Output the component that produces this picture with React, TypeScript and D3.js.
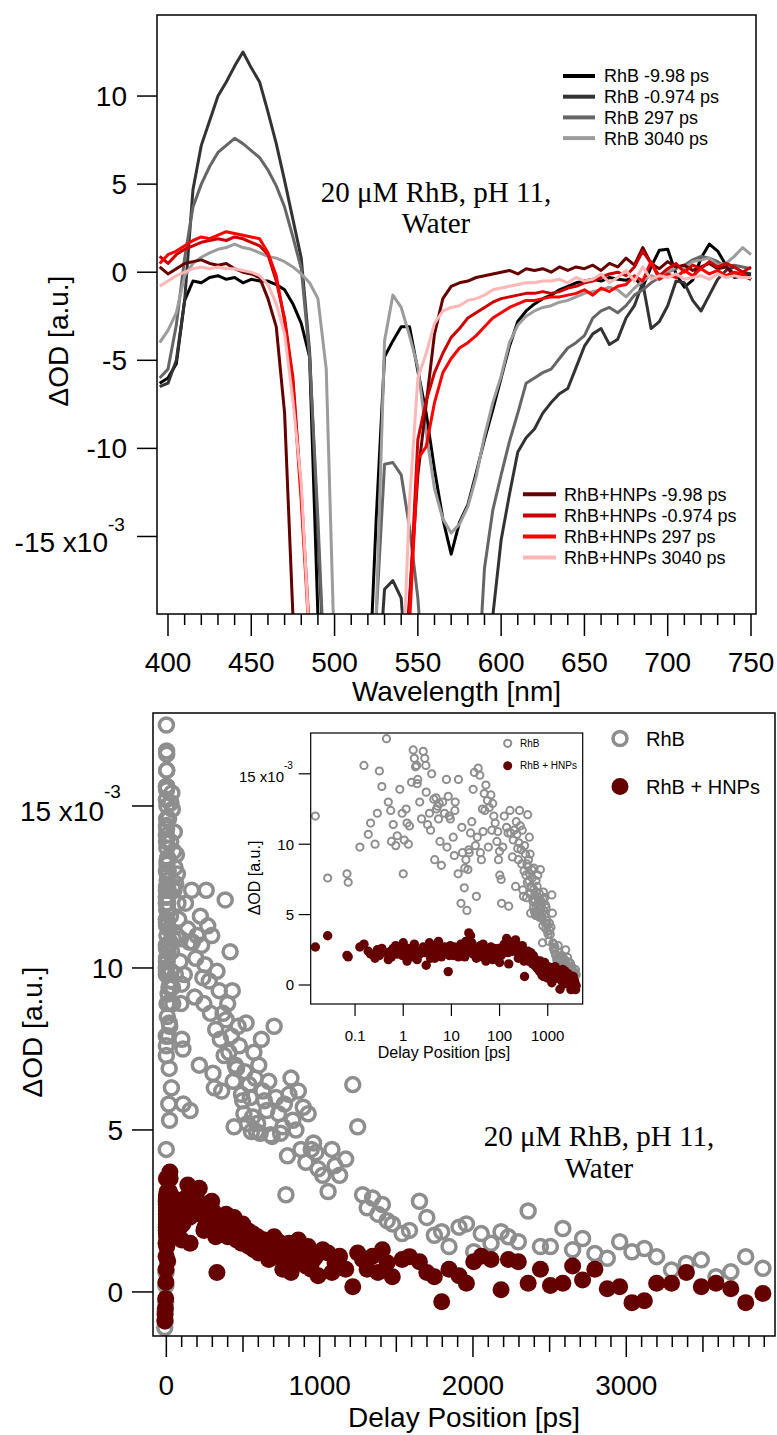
import React from 'react';
import * as d3 from 'd3';

// ---------- Top panel: transient absorption spectra (ΔOD ×10^-3) ----------
const wavelengths = [
  395, 400, 405, 410, 415, 420, 425, 430, 435, 440,
  445, 450, 455, 460, 465, 470, 475, 480, 485, 490,
  495, 500, 505, 510, 515, 520, 525, 530, 535, 540,
  545, 550, 555, 560, 565, 570, 575, 580, 585, 590,
  595, 600, 605, 610, 615, 620, 625, 630, 635, 640,
  645, 650, 655, 660, 665, 670, 675, 680, 685, 690,
  695, 700, 705, 710, 715, 720, 725, 730, 735, 740,
  745, 750,
];

const rhbNeg998 = [
  -6.3, -6.0, -5.2, -1.6, -0.5, -0.6, -0.3, -0.2, -0.4, -0.3,
  -0.6, -0.4, -0.5, -0.5, -0.7, -1.0, -1.8, -2.9, -4.8, -19.5,
  -25, -25, -25, -25, -25, -25, -14, -4.8, -3.9, -3.1,
  -3.1, -5.6, -8.0, -11.2, -14.0, -16.0, -14.2, -13.2, -11.4, -9.5,
  -7.8, -6.0, -4.2, -2.8, -2.2, -1.8, -1.5, -1.3, -1.0, -0.8,
  -0.6, -0.5, -0.4, -0.5, -0.3, -0.4, -0.45, -0.3, -0.85, 0.3,
  1.25, 1.3, -0.1, -0.85, -0.45, 0.8, 1.6, 1.2, 0.4, -0.3,
  -0.2, -0.1,
];
const rhbNeg0974 = [
  -6.5, -6.3, -5.0, -1.6, 4.7, 7.2, 8.6, 10.0, 10.8, 11.7,
  12.5, 11.6, 10.8, 9.1, 7.3, 5.2, 3.0, 0.8, -4.5, -15,
  -25, -25, -25, -25, -25, -25, -25, -18, -17.5, -18.5,
  -25, -25, -25, -25, -25, -25, -25, -25, -25, -25,
  -19.5, -15.2, -12.6, -10.2, -9.4, -8.9, -8.0, -7.4, -6.9, -6.6,
  -5.4, -4.2, -3.5, -3.2, -4.1, -3.8, -2.6, -1.9, -0.6, -3.2,
  -2.8, -1.9, -0.5, -0.6, -1.6, -2.2, -1.3, -0.4, 0.1, 0.3,
  0.0, -0.1,
];
const rhb297 = [
  -6.0, -5.5, -3.0, 0.8, 3.7, 5.0, 6.0, 6.8, 7.2, 7.6,
  7.3, 6.9, 6.5, 5.8, 4.9, 3.7, 2.0, 0.2, -4.8, -14,
  -25, -25, -25, -25, -25, -25, -19.5, -10.9, -10.8, -11.5,
  -14.5, -18.5, -25, -25, -25, -25, -25, -25, -25, -16.8,
  -13.5, -11.5, -9.6, -8.0, -6.3, -6.0, -5.7, -5.5, -4.9, -4.3,
  -4.0, -3.6, -2.6, -2.2, -2.0, -2.3, -1.9, -1.3, -1.0, -0.6,
  -0.3, 0.0, 0.2, 0.4, 0.7, 0.9, 0.8, 0.6, 0.3, 0.4,
  0.3, 0.2,
];
const rhb3040 = [
  -4.0, -3.3, -2.3, -0.2, 0.5, 0.85, 1.1, 1.3, 1.4, 1.6,
  1.4, 1.3, 1.1, 0.9, 0.8, 0.6, 0.3, -0.1, -0.6, -1.5,
  -5.5, -22, -25, -25, -25, -25, -19.5, -3.9, -1.3, -2.0,
  -3.6, -5.4, -9.1, -12.3, -14.0, -14.8, -14.3, -13.3, -11.6, -9.3,
  -7.4, -5.9, -4.0, -3.0, -2.5, -2.2, -2.0, -1.9, -1.7, -1.6,
  -1.4, -1.2, -1.1, -1.0, -0.85, -1.0, -1.4, -0.9, -0.5, -0.2,
  -0.4, 0.0, 0.3, 0.2, 0.6, 0.7, 0.8, 0.4, 0.5, 0.9,
  1.4, 1.0,
];
const hnpNeg998 = [
  0.3, -0.1, 0.2, 0.5, 0.6, 0.7, 0.5, 0.4, 0.5, 0.2,
  0.0, -0.1, -0.3, -1.5, -3.1, -8.0, -19.5, -25, -25, -25,
  -25, -25, -25, -25, -25, -25, -25, -25, -25, -25,
  -18.5, -11.5, -7.5, -3.5, -1.5, -0.8, -0.6, -0.5, -0.3, -0.2,
  -0.1, 0.0, 0.1, -0.1, 0.2, 0.1, 0.2, 0.0, 0.3, 0.1,
  0.3, 0.2, 0.4, 0.1, 0.5, 0.3, 0.8, 0.4, 1.4, 0.5,
  0.2, 0.6, 0.3, 0.4, 0.1, 0.3, 0.5, 0.2, 0.3, -0.1,
  -0.2, -0.4,
];
const hnpNeg0974 = [
  0.9, 0.5, 1.0, 1.3, 1.5, 1.7, 1.8, 1.9, 1.8, 2.0,
  1.9, 1.7, 1.5, 1.0, -0.5, -2.6, -6.0, -12.5, -20.5, -25,
  -25, -25, -25, -25, -25, -25, -25, -25, -25, -25,
  -19, -9.5, -7.3, -5.7, -4.6, -3.7, -3.2, -2.6, -2.3, -2.0,
  -1.7, -1.5, -1.4, -1.3, -1.2, -1.2, -1.1, -1.2, -1.1, -0.9,
  -0.8, -0.6, -0.5, -0.3, -0.1, 0.0, -0.2, 0.3, 1.2, 0.5,
  -0.2, 0.2, 0.5, 0.0, 0.4, 0.2, 0.6, 0.3, 0.5, 0.3,
  0.0, 0.3,
];
const hnp297 = [
  0.5, 1.0, 1.2, 1.5, 1.8, 2.0, 1.9, 2.1, 2.3, 2.2,
  2.1, 2.0, 1.9, 1.1, -0.2, -2.8, -6.3, -13, -21, -25,
  -25, -25, -25, -25, -25, -25, -25, -25, -25, -25,
  -20, -10.6, -9.9, -7.4, -5.7, -4.9, -4.3, -4.0, -3.6, -3.1,
  -2.6, -2.3, -2.0, -1.8, -1.6, -1.6, -1.5, -1.4, -1.4, -1.3,
  -1.2, -1.0, -1.3, -0.9, -1.1, -0.8, -0.7, -0.2, -0.5, 0.6,
  -0.4, -0.1, -0.3, 0.1, -0.2, 0.2, -0.1, 0.1, -0.2, 0.0,
  -0.1, -0.4,
];
const hnp3040 = [
  -0.8, -0.5, -0.2, 0.0, 0.2, 0.3, 0.2, 0.3, 0.2, 0.2,
  0.1, 0.0, -0.2, -0.7, -1.8, -3.5, -7.3, -12, -21, -25,
  -25, -25, -25, -25, -25, -25, -25, -25, -25, -25,
  -13, -6.0, -4.6, -2.9, -2.2, -2.0, -1.9, -1.6, -1.5, -1.3,
  -1.0, -0.9, -0.8, -0.7, -0.6, -0.6, -0.5, -0.5, -0.4, -0.6,
  -0.3, -0.5, -0.4, -0.1, -0.6, -0.3, 0.1, -0.5, 0.3, -0.4,
  -0.2, -0.3, -0.1, -0.4, -0.3, -0.2, -0.4, -0.1, -0.3, -0.2,
  -0.3, -0.3,
];

const rhbLabels = ['RhB -9.98 ps', 'RhB -0.974 ps', 'RhB 297 ps', 'RhB 3040 ps'];
const hnpLabels = ['RhB+HNPs -9.98 ps', 'RhB+HNPs -0.974 ps', 'RhB+HNPs 297 ps', 'RhB+HNPs 3040 ps'];
const rhbColors = ['#000000', '#333333', '#666666', '#9c9c9c'];
const hnpColors = ['#660000', '#cc0000', '#ff0000', '#ffb6b6'];
const rhbSpectra = [rhbNeg998, rhbNeg0974, rhb297, rhb3040];
const hnpSpectra = [hnpNeg998, hnpNeg0974, hnp297, hnp3040];

const topYTicks = [10, 5, 0, -5, -10, -15];
const topXTicks = [400, 450, 500, 550, 600, 650, 700, 750];

// ---------- Bottom panel: kinetics (ΔOD ×10^-3) ----------
const delayTimes = [
  -10, -8, -6, -4, -3, -2, -1.5, -1, -0.5, 0.015,
  0.027, 0.068, 0.072, 0.126, 0.153, 0.188, 0.21, 0.26, 0.29, 0.32,
  0.36, 0.45, 0.49, 0.55, 0.57, 0.7, 0.75, 0.85, 1.0, 1.15,
  1.2, 1.35, 1.49, 1.61, 1.7, 1.8, 1.95, 2.2, 2.6, 2.8,
  3.0, 3.2, 3.5, 3.9, 4.3, 4.5, 4.9, 5.4, 5.8, 6.2,
  6.6, 7.2, 7.9, 8.6, 9.5, 10.9, 12, 13.8, 14, 15.8,
  17, 18.5, 20, 21, 23, 25, 28.3, 30, 33, 36,
  40, 44, 48, 52, 56, 61, 66, 72, 81, 88,
  95, 100, 110, 125, 140, 155, 170, 185, 200, 215,
  230, 245, 260, 280, 296, 313, 330, 345, 361, 377,
  384, 400, 416, 430, 442, 458, 468, 490, 506, 520,
  539, 555, 571, 587, 603, 620, 640, 668, 690, 703,
  732, 760, 780, 800, 813, 845, 861, 893, 925, 945,
  975, 990, 1020, 1055, 1080, 1100, 1130, 1170, 1216, 1248,
  1280, 1310, 1345, 1380, 1409, 1440, 1474, 1538, 1586, 1651,
  1699, 1748, 1796, 1844, 1909, 1957, 2005, 2054, 2118, 2183,
  2231, 2296, 2360, 2440, 2505, 2586, 2650, 2715, 2795, 2876,
  2957, 3037, 3118, 3198, 3295, 3392, 3489, 3585, 3682, 3779,
  3891,
  1.9, 2.0, 2.95, 4.8, 5.2, 5.6, 8.1, 9.0, 11.5, 11.8,
  16.5, 19, 22, 23.5, 26.5, 31.5, 34.5, 39, 42, 45.5,
  49.5, 58.5, 69, 76, 92, 0.62, 0.95, 1.05, 1.28, 2.4,
  3.7, 101, 108, 117, 150, 165, 192, 222, 238, 252,
  270, 288, 304, 322, 352, 370, 390, 408, 424, 436,
  450, 476, 498, 512, 530, 547, 563, 579, 595, 612,
  630, 655, 680, 715, 745, 770, 790, 825, 878, 910,
  960,
];
const rhbKinetics = [
  -1.1, -0.6, -0.9, -0.3, 0.2, 0.6, 1.5, 2.8, 4.4, 12.0,
  7.6, 7.9, 7.3, 9.8, 15.6, 10.7, 11.5, 10.0, 12.2, 15.2,
  14.1, 17.5, 13.0, 12.4, 10.2, 9.9, 10.6, 13.9, 7.9, 12.5,
  11.5, 11.3, 14.4, 16.7, 16.1, 15.5, 14.3, 13.0, 16.6, 16.1,
  13.7, 11.4, 12.2, 15.0, 13.2, 8.9, 12.5, 11.8, 10.2, 8.5,
  13.0, 12.2, 14.6, 13.4, 11.8, 10.5, 13.0, 7.9, 14.6, 5.8,
  9.4, 6.9, 8.9, 5.3, 9.6, 10.8, 13.9, 15.1, 6.3, 15.4,
  9.4, 12.5, 13.6, 14.2, 13.1, 12.6, 13.5, 12.9, 11.5, 10.2,
  8.9, 9.5, 5.8, 12.0, 11.2, 5.6, 10.8, 9.1, 11.0, 7.0,
  10.7, 8.9, 12.4, 9.6, 11.0, 6.3, 9.9, 9.3, 6.2, 7.3,
  12.1, 8.9, 10.5, 9.3, 5.1, 6.9, 8.2, 6.1, 5.5, 8.3,
  6.4, 4.95, 7.4, 4.95, 7.0, 7.8, 5.9, 6.5, 4.8, 8.2,
  5.5, 5.1, 3.0, 6.1, 6.6, 5.0, 6.2, 5.7, 5.5, 4.4,
  4.3, 3.8, 3.6, 3.1, 4.4, 3.9, 3.6, 4.1, 6.4, 5.1,
  3.0, 2.6, 2.9, 2.4, 2.7, 2.2, 2.1, 1.8, 1.9, 2.8,
  2.3, 1.75, 1.86, 1.4, 2.0, 2.1, 1.24, 1.8, 1.5, 1.86,
  1.7, 1.55, 2.5, 1.4, 1.4, 1.96, 1.3, 1.65, 1.19, 1.04,
  1.55, 1.24, 1.34, 1.09, 0.68, 0.88, 0.99, 0.47, 0.62, 1.09,
  0.73,
  15.6, 14.6, 15.6, 13.3, 12.7, 12.9, 9.8, 12.0, 9.2, 12.4,
  11.2, 8.3, 8.2, 9.4, 11.6, 9.9, 10.5, 14.9, 8.9, 10.9,
  12.4, 9.8, 11.0, 12.0, 10.9, 11.4, 12.2, 10.3, 10.0, 11.8,
  11.0, 7.8, 7.5, 9.8, 10.8, 12.4, 10.3, 11.6, 9.7, 10.1,
  11.3, 8.6, 6.75, 8.1, 7.8, 8.6, 8.4, 7.4, 7.9, 6.5,
  7.0, 7.6, 5.9, 6.8, 5.2, 6.0, 5.4, 6.6, 5.2, 4.9,
  6.2, 5.6, 4.85, 6.0, 4.9, 5.8, 4.2, 5.3, 4.4, 4.0,
  4.6,
];
const hnpKinetics = [
  -0.9, -0.7, -0.5, -0.2, 0.3, 0.7, 1.1, 1.5, 1.9, 2.7,
  3.5, 2.1, 2.0, 2.7, 2.9, 2.4, 2.2, 1.9, 2.5, 2.1,
  2.6, 2.3, 1.8, 2.4, 2.0, 2.8, 2.2, 2.5, 3.0, 2.1,
  1.7, 2.6, 2.3, 2.0, 2.9, 2.4, 1.8, 2.2, 2.7, 2.3,
  1.4, 2.5, 3.0, 2.1, 2.6, 1.9, 2.4, 3.1, 2.2, 2.0,
  2.5, 2.7, 2.3, 0.95, 2.8, 2.1, 2.6, 2.4, 2.0, 2.9,
  2.2, 2.5, 3.1, 2.3, 3.7, 3.5, 2.2, 2.6, 1.9, 2.4,
  2.8, 2.0, 2.3, 1.7, 2.5, 2.1, 2.7, 1.8, 2.4, 2.0,
  2.6, 1.6, 2.2, 2.9, 3.3, 1.5, 2.7, 2.4, 3.1, 3.2,
  2.5, 1.9, 2.2, 2.4, 2.8, 2.3, 0.6, 1.9, 2.1, 1.8,
  2.0, 1.7, 2.2, 1.9, 2.3, 1.6, 1.9, 1.5, 2.0, 1.8,
  1.4, 1.7, 1.3, 1.6, 1.2, 1.5, 1.6, 1.0, 1.4, 1.7,
  1.55, 0.7, 1.3, 1.5, 0.6, 1.1, 1.6, 0.9, 1.4, 0.7,
  1.1, 0.5, 1.3, 1.2, 0.6, 0.9, 1.1, 0.7, 0.16, 1.2,
  1.0, 0.7, 1.1, 0.6, 1.3, 0.9, 0.47, 1.0, 1.09, 0.93,
  0.6, 0.47, -0.3, 0.7, 0.5, 0.27, 0.93, 1.1, 1.0, 0.07,
  1.0, 0.93, 0.27, 0.7, 0.2, 0.27, 0.8, 0.37, 0.7, 0.1,
  0.16, -0.33, -0.27, 0.27, 0.27, 0.6, 0.16, 0.27, 0.1, -0.33,
  -0.05,
  2.4, 2.1, 2.6, 2.2, 2.8, 2.3, 2.5, 2.1, 2.7, 2.3,
  2.6, 2.0, 2.8, 2.4, 3.0, 2.2, 2.6, 2.1, 2.5, 2.9,
  2.2, 2.4, 2.0, 2.6, 2.2, 2.6, 2.1, 2.7, 2.2, 2.5,
  1.9, 2.5, 2.1, 2.7, 2.3, 2.6, 2.9, 2.4, 2.7, 2.0,
  2.6, 2.2, 2.5, 1.7, 2.3, 2.0, 2.4, 2.1, 1.8, 2.2,
  2.0, 1.7, 2.1, 1.6, 1.9, 1.5, 1.8, 1.4, 1.7, 1.3,
  1.6, 1.2, 1.5, 1.1, 1.4, 1.0, 1.3, 0.9, 1.2, 0.8,
  1.0,
];

const kinYTicks = [0, 5, 10, 15];
const kinXMajor = [0, 1000, 2000, 3000];
const insetXTicks = [0.1, 1, 10, 100, 1000];
const insetXLabels = ['0.1', '1', '10', '100', '1000'];

const SANS = '"Liberation Sans", Arial, sans-serif';
const SERIF = '"Liberation Serif", "Times New Roman", serif';
const GRAY = '#8e8e8e';
const DARKRED = '#640000';

export default function App() {
  // ---- top panel scales ----
  const T = { l: 157, t: 15, r: 756, b: 614 };
  const xW = d3.scaleLinear().domain([393.4, 753]).range([T.l, T.r]);
  const yW = d3.scaleLinear().domain([-19.4, 14.6]).range([T.b, T.t]);
  const spectrumLine = d3
    .line<number>()
    .x((_, i) => xW(wavelengths[i]))
    .y((v) => yW(v));
  const topMinor = d3.range(400, 751, 10).filter((v) => v % 50 !== 0);

  // ---- bottom panel scales ----
  const B = { l: 153, t: 713, r: 775, b: 1336 };
  const xT = d3.scaleLinear().domain([-87, 3970]).range([B.l, B.r]);
  const yT = d3.scaleLinear().domain([-1.36, 17.87]).range([B.b, B.t]);
  const kinMinor = d3.range(100, 3901, 100).filter((v) => v % 1000 !== 0);

  // ---- inset scales ----
  const I = { l: 310.7, t: 733, r: 582.7, b: 1004 };
  const xI = d3.scaleLog().domain([0.012, 5320]).range([I.l, I.r]);
  const yI = d3.scaleLinear().domain([-1.35, 17.9]).range([I.b, I.t]);
  const posIdx = delayTimes.map((t, i) => i).filter((i) => delayTimes[i] > 0);

  const drawOrder = [
    ...rhbSpectra.map((s, i) => ({ s, c: rhbColors[i] })),
    ...hnpSpectra.map((s, i) => ({ s, c: hnpColors[i] })),
  ];

  return (
    <svg width={777} height={1435} style={{ position: 'absolute', left: 0, top: 0, background: '#fff' }}>
      <defs>
        <clipPath id="clipTop">
          <rect x={T.l} y={T.t} width={T.r - T.l} height={T.b - T.t} />
        </clipPath>
        <clipPath id="clipBottom">
          <rect x={B.l} y={B.t} width={B.r - B.l} height={B.b - B.t} />
        </clipPath>
        <clipPath id="clipInset">
          <rect x={I.l} y={I.t} width={I.r - I.l} height={I.b - I.t} />
        </clipPath>
      </defs>
      <rect x={0} y={0} width={777} height={1435} fill="#fff" />

      {/* ================= TOP PANEL ================= */}
      <g clipPath="url(#clipTop)">
        {drawOrder.map((d, k) => (
          <path key={k} d={spectrumLine(d.s) || ''} fill="none" stroke={d.c} strokeWidth={3} strokeLinejoin="round" />
        ))}
      </g>
      <rect x={T.l} y={T.t} width={T.r - T.l} height={T.b - T.t} fill="none" stroke="#000" strokeWidth={1.5} />
      {topYTicks.map((v) => (
        <line key={v} x1={T.l - 20} x2={T.l} y1={yW(v)} y2={yW(v)} stroke="#000" strokeWidth={1.5} />
      ))}
      {topYTicks.filter((v) => v !== -15).map((v) => (
        <text key={v} x={127} y={yW(v)} dy="0.36em" textAnchor="end" fontFamily={SANS} fontSize={28}>
          {v}
        </text>
      ))}
      <text x={108} y={yW(-15) + 5} dy="0.36em" textAnchor="end" fontFamily={SANS} fontSize={28}>
        -15 x10
      </text>
      <text x={108} y={531} fontFamily={SANS} fontSize={19}>
        -3
      </text>
      {topXTicks.map((v) => (
        <g key={v}>
          <line x1={xW(v)} x2={xW(v)} y1={T.b} y2={T.b + 22} stroke="#000" strokeWidth={1.5} />
          <text x={xW(v)} y={672} textAnchor="middle" fontFamily={SANS} fontSize={28}>
            {v}
          </text>
        </g>
      ))}
      {topMinor.map((v) => (
        <line key={v} x1={xW(v)} x2={xW(v)} y1={T.b} y2={T.b + 11} stroke="#000" strokeWidth={1.5} />
      ))}
      <text x={(T.l + T.r) / 2} y={701} textAnchor="middle" fontFamily={SANS} fontSize={28}>
        Wavelength [nm]
      </text>
      <text transform="translate(58,341) rotate(-90)" textAnchor="middle" dy="0.36em" fontFamily={SANS} fontSize={28}>
        ΔOD [a.u.]
      </text>
      <text x={436} y={202} textAnchor="middle" fontFamily={SERIF} fontSize={29}>
        20 μM RhB, pH 11,
      </text>
      <text x={436} y={233} textAnchor="middle" fontFamily={SERIF} fontSize={29}>
        Water
      </text>
      {rhbLabels.map((lab, i) => {
        const y = 76 + i * 20.7;
        return (
          <g key={lab}>
            <line x1={563} x2={595} y1={y} y2={y} stroke={rhbColors[i]} strokeWidth={4} />
            <text x={604} y={y} dy="0.36em" fontFamily={SANS} fontSize={18}>
              {lab}
            </text>
          </g>
        );
      })}
      {hnpLabels.map((lab, i) => {
        const y = 494.3 + i * 21.1;
        return (
          <g key={lab}>
            <line x1={523} x2={556} y1={y} y2={y} stroke={hnpColors[i]} strokeWidth={4} />
            <text x={564} y={y} dy="0.36em" fontFamily={SANS} fontSize={18}>
              {lab}
            </text>
          </g>
        );
      })}

      {/* ================= BOTTOM PANEL ================= */}
      <g clipPath="url(#clipBottom)">
        {delayTimes.map((t, i) => (
          <circle key={'g' + i} cx={xT(t)} cy={yT(rhbKinetics[i])} r={7} fill="none" stroke={GRAY} strokeWidth={3.5} />
        ))}
        {delayTimes.map((t, i) => (
          <circle key={'r' + i} cx={xT(t)} cy={yT(hnpKinetics[i])} r={8.5} fill={DARKRED} />
        ))}
      </g>
      <rect x={B.l} y={B.t} width={B.r - B.l} height={B.b - B.t} fill="none" stroke="#000" strokeWidth={1.5} />
      {kinYTicks.map((v) => (
        <line key={v} x1={B.l - 21} x2={B.l} y1={yT(v)} y2={yT(v)} stroke="#000" strokeWidth={1.5} />
      ))}
      {kinYTicks.filter((v) => v !== 15).map((v) => (
        <text key={v} x={123} y={yT(v)} dy="0.36em" textAnchor="end" fontFamily={SANS} fontSize={28}>
          {v}
        </text>
      ))}
      <text x={104} y={yT(15) + 5} dy="0.36em" textAnchor="end" fontFamily={SANS} fontSize={28}>
        15 x10
      </text>
      <text x={104} y={yT(15) - 8} fontFamily={SANS} fontSize={19}>
        -3
      </text>
      {kinXMajor.map((v) => (
        <g key={v}>
          <line x1={xT(v)} x2={xT(v)} y1={B.b} y2={B.b + 21} stroke="#000" strokeWidth={1.5} />
          <text x={xT(v)} y={1395} textAnchor="middle" fontFamily={SANS} fontSize={28}>
            {v}
          </text>
        </g>
      ))}
      {kinMinor.map((v) => (
        <line key={v} x1={xT(v)} x2={xT(v)} y1={B.b} y2={B.b + (v % 500 === 0 ? 16 : 11)} stroke="#000" strokeWidth={1.5} />
      ))}
      <text x={(B.l + B.r) / 2} y={1427} textAnchor="middle" fontFamily={SANS} fontSize={28}>
        Delay Position [ps]
      </text>
      <text transform="translate(32,1032) rotate(-90)" textAnchor="middle" dy="0.36em" fontFamily={SANS} fontSize={28}>
        ΔOD [a.u.]
      </text>
      <text x={599} y={1146} textAnchor="middle" fontFamily={SERIF} fontSize={29}>
        20 μM RhB, pH 11,
      </text>
      <text x={599} y={1178} textAnchor="middle" fontFamily={SERIF} fontSize={29}>
        Water
      </text>
      <circle cx={620} cy={738.5} r={7} fill="none" stroke={GRAY} strokeWidth={3.5} />
      <text x={646} y={738.5} dy="0.36em" fontFamily={SANS} fontSize={20}>
        RhB
      </text>
      <circle cx={620} cy={786.6} r={8.5} fill={DARKRED} />
      <text x={646} y={786.6} dy="0.36em" fontFamily={SANS} fontSize={20}>
        RhB + HNPs
      </text>

      {/* ================= INSET ================= */}
      <rect x={I.l} y={I.t} width={I.r - I.l} height={I.b - I.t} fill="#fff" />
      <g clipPath="url(#clipInset)">
        {posIdx.map((i) => (
          <circle key={'ig' + i} cx={xI(delayTimes[i])} cy={yI(rhbKinetics[i])} r={3.6} fill="none" stroke={GRAY} strokeWidth={2} />
        ))}
        {posIdx.map((i) => (
          <circle key={'ir' + i} cx={xI(delayTimes[i])} cy={yI(hnpKinetics[i])} r={4.7} fill={DARKRED} />
        ))}
      </g>
      <rect x={I.l} y={I.t} width={I.r - I.l} height={I.b - I.t} fill="none" stroke="#000" strokeWidth={1.2} />
      {kinYTicks.map((v) => (
        <line key={v} x1={I.l - 12} x2={I.l} y1={yI(v)} y2={yI(v)} stroke="#000" strokeWidth={1.2} />
      ))}
      {kinYTicks.filter((v) => v !== 15).map((v) => (
        <text key={v} x={294} y={yI(v)} dy="0.36em" textAnchor="end" fontFamily={SANS} fontSize={15}>
          {v}
        </text>
      ))}
      <text x={284} y={yI(15) + 3} dy="0.36em" textAnchor="end" fontFamily={SANS} fontSize={15}>
        15 x10
      </text>
      <text x={284} y={yI(15) - 5} fontFamily={SANS} fontSize={10}>
        -3
      </text>
      {insetXTicks.map((v, k) => (
        <g key={v}>
          <line x1={xI(v)} x2={xI(v)} y1={I.b} y2={I.b + 12} stroke="#000" strokeWidth={1.2} />
          <text x={xI(v)} y={1041} textAnchor="middle" fontFamily={SANS} fontSize={15}>
            {insetXLabels[k]}
          </text>
        </g>
      ))}
      <text x={444} y={1058} textAnchor="middle" fontFamily={SANS} fontSize={16}>
        Delay Position [ps]
      </text>
      <text transform="translate(254,878) rotate(-90)" textAnchor="middle" dy="0.36em" fontFamily={SANS} fontSize={16}>
        ΔOD [a.u.]
      </text>
      <circle cx={507.7} cy={743.3} r={3.6} fill="none" stroke={GRAY} strokeWidth={2} />
      <text x={520} y={743.3} dy="0.36em" fontFamily={SANS} fontSize={10}>
        RhB
      </text>
      <circle cx={507.7} cy={765.7} r={4.5} fill={DARKRED} />
      <text x={520} y={765.7} dy="0.36em" fontFamily={SANS} fontSize={10}>
        RhB + HNPs
      </text>
    </svg>
  );
}
